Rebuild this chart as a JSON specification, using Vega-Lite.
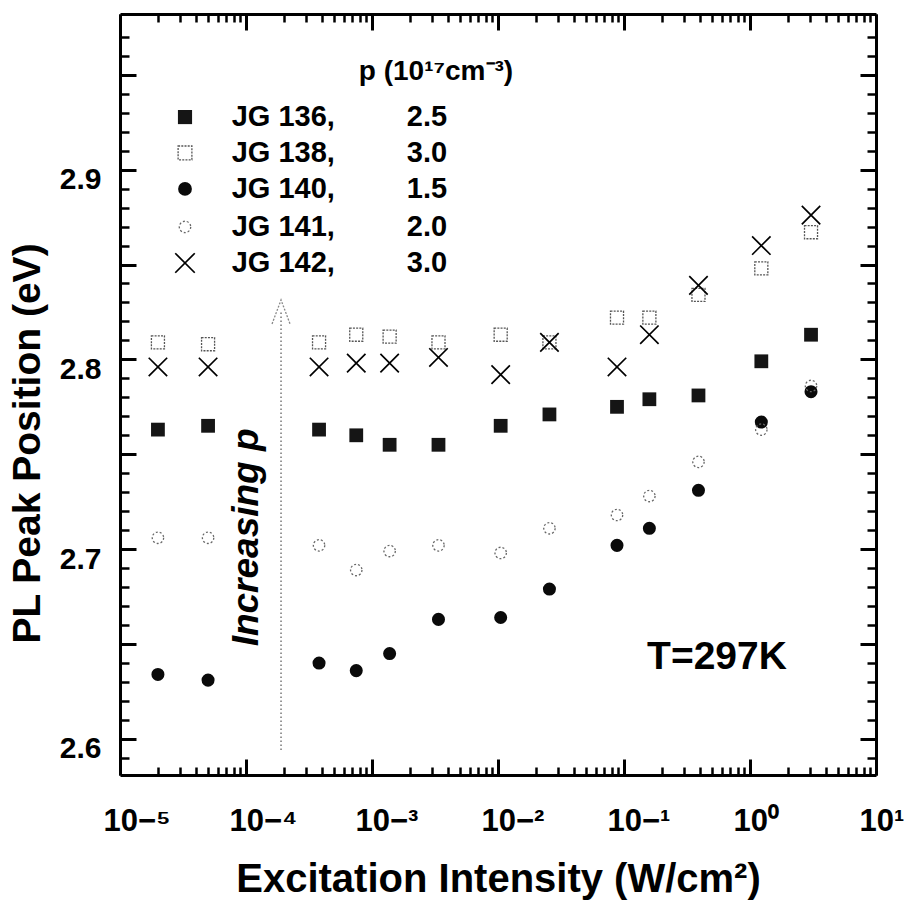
{
  "$schema": "https://vega.github.io/schema/vega-lite/v6.json",
  "width": 756,
  "height": 761,
  "autosize": {"type": "none"},
  "padding": {"left": 120, "top": 14, "right": 31, "bottom": 132},
  "background": "white",
  "config": {
    "view": {"stroke": null},
    "font": "Liberation Sans",
    "axis": {
      "labelFont": "Liberation Sans",
      "titleFont": "Liberation Sans",
      "labelColor": "black",
      "titleColor": "black",
      "tickColor": "black",
      "domainColor": "black",
      "grid": false,
      "labelFontWeight": "bold",
      "titleFontWeight": "bold"
    }
  },
  "datasets": {
    "pts": [
      {"s": "JG136", "I": 0.00002, "E": 2.763},
      {"s": "JG136", "I": 0.00005, "E": 2.765},
      {"s": "JG136", "I": 0.00038, "E": 2.763},
      {"s": "JG136", "I": 0.00075, "E": 2.760},
      {"s": "JG136", "I": 0.00138, "E": 2.755},
      {"s": "JG136", "I": 0.00337, "E": 2.755},
      {"s": "JG136", "I": 0.0105, "E": 2.765},
      {"s": "JG136", "I": 0.0256, "E": 2.771},
      {"s": "JG136", "I": 0.088, "E": 2.775},
      {"s": "JG136", "I": 0.159, "E": 2.779},
      {"s": "JG136", "I": 0.39, "E": 2.781},
      {"s": "JG136", "I": 1.23, "E": 2.799},
      {"s": "JG136", "I": 3.05, "E": 2.813},
      {"s": "JG138", "I": 0.00002, "E": 2.809},
      {"s": "JG138", "I": 0.00005, "E": 2.808},
      {"s": "JG138", "I": 0.00038, "E": 2.809},
      {"s": "JG138", "I": 0.00075, "E": 2.813},
      {"s": "JG138", "I": 0.00138, "E": 2.812},
      {"s": "JG138", "I": 0.00337, "E": 2.809},
      {"s": "JG138", "I": 0.0105, "E": 2.813},
      {"s": "JG138", "I": 0.0256, "E": 2.809},
      {"s": "JG138", "I": 0.088, "E": 2.822},
      {"s": "JG138", "I": 0.159, "E": 2.822},
      {"s": "JG138", "I": 0.39, "E": 2.834},
      {"s": "JG138", "I": 1.23, "E": 2.848},
      {"s": "JG138", "I": 3.05, "E": 2.867},
      {"s": "JG140", "I": 0.00002, "E": 2.634},
      {"s": "JG140", "I": 0.00005, "E": 2.631},
      {"s": "JG140", "I": 0.00038, "E": 2.640},
      {"s": "JG140", "I": 0.00075, "E": 2.636},
      {"s": "JG140", "I": 0.00138, "E": 2.645},
      {"s": "JG140", "I": 0.00337, "E": 2.663},
      {"s": "JG140", "I": 0.0105, "E": 2.664},
      {"s": "JG140", "I": 0.0256, "E": 2.679},
      {"s": "JG140", "I": 0.088, "E": 2.702},
      {"s": "JG140", "I": 0.159, "E": 2.711},
      {"s": "JG140", "I": 0.39, "E": 2.731},
      {"s": "JG140", "I": 1.23, "E": 2.767},
      {"s": "JG140", "I": 3.05, "E": 2.783},
      {"s": "JG141", "I": 0.00002, "E": 2.706},
      {"s": "JG141", "I": 0.00005, "E": 2.706},
      {"s": "JG141", "I": 0.00038, "E": 2.702},
      {"s": "JG141", "I": 0.00075, "E": 2.689},
      {"s": "JG141", "I": 0.00138, "E": 2.699},
      {"s": "JG141", "I": 0.00337, "E": 2.702},
      {"s": "JG141", "I": 0.0105, "E": 2.698},
      {"s": "JG141", "I": 0.0256, "E": 2.711},
      {"s": "JG141", "I": 0.088, "E": 2.718},
      {"s": "JG141", "I": 0.159, "E": 2.728},
      {"s": "JG141", "I": 0.39, "E": 2.746},
      {"s": "JG141", "I": 1.23, "E": 2.763},
      {"s": "JG141", "I": 3.05, "E": 2.786},
      {"s": "JG142", "I": 0.00002, "E": 2.796},
      {"s": "JG142", "I": 0.00005, "E": 2.796},
      {"s": "JG142", "I": 0.00038, "E": 2.796},
      {"s": "JG142", "I": 0.00075, "E": 2.798},
      {"s": "JG142", "I": 0.00138, "E": 2.798},
      {"s": "JG142", "I": 0.00337, "E": 2.801},
      {"s": "JG142", "I": 0.0105, "E": 2.792},
      {"s": "JG142", "I": 0.0256, "E": 2.809},
      {"s": "JG142", "I": 0.088, "E": 2.796},
      {"s": "JG142", "I": 0.159, "E": 2.813},
      {"s": "JG142", "I": 0.39, "E": 2.839},
      {"s": "JG142", "I": 1.23, "E": 2.860},
      {"s": "JG142", "I": 3.05, "E": 2.876}
    ],
    "leg": [
      {"s": "JG136", "lab": "JG 136,", "p": "2.5", "Is": 0.0000328, "Il": 0.000077, "Ip": 0.00273, "E": 2.9277},
      {"s": "JG138", "lab": "JG 138,", "p": "3.0", "Is": 0.0000328, "Il": 0.000077, "Ip": 0.00273, "E": 2.9088},
      {"s": "JG140", "lab": "JG 140,", "p": "1.5", "Is": 0.0000328, "Il": 0.000077, "Ip": 0.00273, "E": 2.8898},
      {"s": "JG141", "lab": "JG 141,", "p": "2.0", "Is": 0.0000328, "Il": 0.000077, "Ip": 0.00273, "E": 2.8698},
      {"s": "JG142", "lab": "JG 142,", "p": "3.0", "Is": 0.0000328, "Il": 0.000077, "Ip": 0.00273, "E": 2.8508}
    ],
    "arrow": [
      {"I": 0.0001897, "E": 2.5942, "E2": 2.826, "Etip": 2.825}
    ]
  },
  "resolve": {"axis": {"x": "independent", "y": "independent"}},
  "layer": [
    {
      "data": {"name": "pts"},
      "transform": [{"filter": "datum.s == 'JG136'"}],
      "mark": {"type": "point", "shape": "square", "filled": true, "fill": "#151515", "size": 190, "opacity": 1, "strokeWidth": 0},
      "encoding": {
        "x": {
          "field": "I", "type": "quantitative",
          "scale": {"type": "log", "domain": [0.00001, 10], "nice": false},
          "axis": {
            "orient": "bottom",
            "values": [0.00001, 0.0001, 0.001, 0.01, 0.1, 1, 10],
            "tickSize": -16, "tickWidth": 3, "domainWidth": 3,
            "labelFontSize": 31, "labelAlign": "left", "labelOffset": -17, "labelPadding": 47,
            "labelFlush": false, "labelOverlap": false,
            "labelExpr": "'10' + replace(replace(replace(replace(replace(replace(replace(format(round(log(datum.value)/LN10), 'd'), '-', '⁻'), '0', '⁰'), '1', '¹'), '2', '²'), '3', '³'), '4', '⁴'), '5', '⁵')",
            "title": "Excitation Intensity (W/cm²)", "titleFontSize": 40, "titlePadding": 23
          }
        },
        "y": {
          "field": "E", "type": "quantitative",
          "scale": {"domain": [2.581, 2.982], "nice": false, "zero": false},
          "axis": {
            "orient": "left",
            "values": [2.6, 2.65, 2.7, 2.75, 2.8, 2.85, 2.9, 2.95],
            "tickSize": -16, "tickWidth": 3, "domainWidth": 3,
            "labelFontSize": 30, "labelPadding": 35, "labelOffset": 10, "labelOverlap": false, "labelFlush": false,
            "labelExpr": "round(datum.value*100) % 10 == 0 ? format(datum.value, '.1f') : ''",
            "title": "PL Peak Position (eV)", "titleFontSize": 39, "titlePadding": 12, "titleY": 429
          }
        }
      }
    },
    {
      "data": {"name": "pts"},
      "transform": [{"filter": "datum.s == 'JG138'"}],
      "mark": {"type": "point", "shape": "square", "filled": false, "stroke": "#555555", "strokeWidth": 1.3, "strokeDash": [2, 1.2], "size": 170, "opacity": 1},
      "encoding": {
        "x": {
          "field": "I", "type": "quantitative",
          "scale": {"type": "log", "domain": [0.00001, 10], "nice": false},
          "axis": {
            "orient": "bottom",
            "values": [0.00002, 0.00003, 0.00004, 0.00005, 0.00006, 0.00007, 0.00008, 0.00009,
                       0.0002, 0.0003, 0.0004, 0.0005, 0.0006, 0.0007, 0.0008, 0.0009,
                       0.002, 0.003, 0.004, 0.005, 0.006, 0.007, 0.008, 0.009,
                       0.02, 0.03, 0.04, 0.05, 0.06, 0.07, 0.08, 0.09,
                       0.2, 0.3, 0.4, 0.5, 0.6, 0.7, 0.8, 0.9,
                       2, 3, 4, 5, 6, 7, 8, 9],
            "tickSize": -8, "tickWidth": 2.5, "labels": false, "domain": false, "title": null
          }
        },
        "y": {
          "field": "E", "type": "quantitative",
          "scale": {"domain": [2.581, 2.982], "nice": false, "zero": false},
          "axis": {
            "orient": "left",
            "values": [2.59, 2.61, 2.62, 2.63, 2.64, 2.66, 2.67, 2.68, 2.69, 2.71, 2.72, 2.73, 2.74, 2.76, 2.77, 2.78, 2.79, 2.81, 2.82, 2.83, 2.84, 2.86, 2.87, 2.88, 2.89, 2.91, 2.92, 2.93, 2.94, 2.96, 2.97],
            "tickSize": -9, "tickWidth": 2.5, "labels": false, "domain": false, "title": null
          }
        }
      }
    },
    {
      "data": {"name": "pts"},
      "transform": [{"filter": "datum.s == 'JG140'"}],
      "mark": {"type": "point", "shape": "circle", "filled": true, "fill": "#0a0a0a", "size": 170, "opacity": 1, "strokeWidth": 0},
      "encoding": {
        "x": {
          "field": "I", "type": "quantitative",
          "scale": {"type": "log", "domain": [0.00001, 10], "nice": false},
          "axis": {
            "orient": "top",
            "values": [0.00001, 0.0001, 0.001, 0.01, 0.1, 1, 10],
            "tickSize": -16, "tickWidth": 3, "domainWidth": 3, "labels": false, "title": null
          }
        },
        "y": {
          "field": "E", "type": "quantitative",
          "scale": {"domain": [2.581, 2.982], "nice": false, "zero": false},
          "axis": {
            "orient": "right",
            "values": [2.6, 2.65, 2.7, 2.75, 2.8, 2.85, 2.9, 2.95],
            "tickSize": -16, "tickWidth": 3, "domainWidth": 3, "labels": false, "title": null
          }
        }
      }
    },
    {
      "data": {"name": "pts"},
      "transform": [{"filter": "datum.s == 'JG141'"}],
      "mark": {"type": "point", "shape": "circle", "filled": false, "stroke": "#666666", "strokeWidth": 1.3, "strokeDash": [2, 2], "size": 130, "opacity": 1},
      "encoding": {
        "x": {
          "field": "I", "type": "quantitative",
          "scale": {"type": "log", "domain": [0.00001, 10], "nice": false},
          "axis": {
            "orient": "top",
            "values": [0.00002, 0.00003, 0.00004, 0.00005, 0.00006, 0.00007, 0.00008, 0.00009,
                       0.0002, 0.0003, 0.0004, 0.0005, 0.0006, 0.0007, 0.0008, 0.0009,
                       0.002, 0.003, 0.004, 0.005, 0.006, 0.007, 0.008, 0.009,
                       0.02, 0.03, 0.04, 0.05, 0.06, 0.07, 0.08, 0.09,
                       0.2, 0.3, 0.4, 0.5, 0.6, 0.7, 0.8, 0.9,
                       2, 3, 4, 5, 6, 7, 8, 9],
            "tickSize": -8, "tickWidth": 2.5, "labels": false, "domain": false, "title": null
          }
        },
        "y": {
          "field": "E", "type": "quantitative",
          "scale": {"domain": [2.581, 2.982], "nice": false, "zero": false},
          "axis": {
            "orient": "right",
            "values": [2.59, 2.61, 2.62, 2.63, 2.64, 2.66, 2.67, 2.68, 2.69, 2.71, 2.72, 2.73, 2.74, 2.76, 2.77, 2.78, 2.79, 2.81, 2.82, 2.83, 2.84, 2.86, 2.87, 2.88, 2.89, 2.91, 2.92, 2.93, 2.94, 2.96, 2.97],
            "tickSize": -9, "tickWidth": 2.5, "labels": false, "domain": false, "title": null
          }
        }
      }
    },
    {
      "data": {"name": "pts"},
      "transform": [{"filter": "datum.s == 'JG142'"}],
      "mark": {"type": "point", "shape": "M-1,-1L1,1M-1,1L1,-1", "filled": false, "stroke": "#000000", "strokeWidth": 1.7, "size": 340, "opacity": 1},
      "encoding": {
        "x": {"field": "I", "type": "quantitative", "scale": {"type": "log", "domain": [0.00001, 10], "nice": false}, "axis": null},
        "y": {"field": "E", "type": "quantitative", "scale": {"domain": [2.581, 2.982], "nice": false, "zero": false}, "axis": null}
      }
    },
    {
      "data": {"name": "arrow"},
      "mark": {"type": "rule", "stroke": "#777777", "strokeWidth": 1.5, "strokeDash": [1.5, 2.5]},
      "encoding": {
        "x": {"field": "I", "type": "quantitative", "axis": null},
        "y": {"field": "E", "type": "quantitative", "axis": null},
        "y2": {"field": "E2"}
      }
    },
    {
      "data": {"name": "arrow"},
      "mark": {"type": "point", "shape": "M-0.6,0.8L0,-0.8L0.6,0.8", "filled": false, "stroke": "#888888", "strokeWidth": 1.3, "strokeDash": [2, 1.5], "size": 900, "opacity": 1},
      "encoding": {
        "x": {"field": "I", "type": "quantitative", "axis": null},
        "y": {"field": "Etip", "type": "quantitative", "axis": null}
      }
    },
    {
      "data": {"values": [{"I": 0.000125, "E": 2.7062, "txt": "Increasing  p"}]},
      "mark": {"type": "text", "angle": 270, "align": "center", "baseline": "alphabetic", "font": "Liberation Sans", "fontSize": 37, "fontStyle": "italic", "fontWeight": "bold", "color": "black"},
      "encoding": {
        "x": {"field": "I", "type": "quantitative", "axis": null},
        "y": {"field": "E", "type": "quantitative", "axis": null},
        "text": {"field": "txt"}
      }
    },
    {
      "data": {"values": [{"I": 0.547, "E": 2.643, "txt": "T=297K"}]},
      "mark": {"type": "text", "align": "center", "baseline": "middle", "font": "Liberation Sans", "fontSize": 39, "fontWeight": "bold", "color": "black"},
      "encoding": {
        "x": {"field": "I", "type": "quantitative", "axis": null},
        "y": {"field": "E", "type": "quantitative", "axis": null},
        "text": {"field": "txt"}
      }
    },
    {
      "data": {"name": "leg"},
      "transform": [{"filter": "datum.s == 'JG136'"}],
      "mark": {"type": "point", "shape": "square", "filled": true, "fill": "#151515", "size": 200, "opacity": 1, "strokeWidth": 0},
      "encoding": {
        "x": {"field": "Is", "type": "quantitative", "axis": null},
        "y": {"field": "E", "type": "quantitative", "axis": null}
      }
    },
    {
      "data": {"name": "leg"},
      "transform": [{"filter": "datum.s == 'JG138'"}],
      "mark": {"type": "point", "shape": "square", "filled": false, "stroke": "#555555", "strokeWidth": 1.3, "strokeDash": [2, 1.2], "size": 190, "opacity": 1},
      "encoding": {
        "x": {"field": "Is", "type": "quantitative", "axis": null},
        "y": {"field": "E", "type": "quantitative", "axis": null}
      }
    },
    {
      "data": {"name": "leg"},
      "transform": [{"filter": "datum.s == 'JG140'"}],
      "mark": {"type": "point", "shape": "circle", "filled": true, "fill": "#0a0a0a", "size": 190, "opacity": 1, "strokeWidth": 0},
      "encoding": {
        "x": {"field": "Is", "type": "quantitative", "axis": null},
        "y": {"field": "E", "type": "quantitative", "axis": null}
      }
    },
    {
      "data": {"name": "leg"},
      "transform": [{"filter": "datum.s == 'JG141'"}],
      "mark": {"type": "point", "shape": "circle", "filled": false, "stroke": "#666666", "strokeWidth": 1.3, "strokeDash": [2, 2], "size": 130, "opacity": 1},
      "encoding": {
        "x": {"field": "Is", "type": "quantitative", "axis": null},
        "y": {"field": "E", "type": "quantitative", "axis": null}
      }
    },
    {
      "data": {"name": "leg"},
      "transform": [{"filter": "datum.s == 'JG142'"}],
      "mark": {"type": "point", "shape": "M-1,-1L1,1M-1,1L1,-1", "filled": false, "stroke": "#000000", "strokeWidth": 1.7, "size": 380, "opacity": 1},
      "encoding": {
        "x": {"field": "Is", "type": "quantitative", "axis": null},
        "y": {"field": "E", "type": "quantitative", "axis": null}
      }
    },
    {
      "data": {"name": "leg"},
      "mark": {"type": "text", "align": "left", "baseline": "middle", "font": "Liberation Sans", "fontSize": 29, "fontWeight": "bold", "color": "black"},
      "encoding": {
        "x": {"field": "Il", "type": "quantitative", "axis": null},
        "y": {"field": "E", "type": "quantitative", "axis": null},
        "text": {"field": "lab"}
      }
    },
    {
      "data": {"name": "leg"},
      "mark": {"type": "text", "align": "center", "baseline": "middle", "font": "Liberation Sans", "fontSize": 29, "fontWeight": "bold", "color": "black"},
      "encoding": {
        "x": {"field": "Ip", "type": "quantitative", "axis": null},
        "y": {"field": "E", "type": "quantitative", "axis": null},
        "text": {"field": "p"}
      }
    },
    {
      "data": {"values": [{"I": 0.00322, "E": 2.9514, "txt": "p (10¹⁷cm⁻³)"}]},
      "mark": {"type": "text", "align": "center", "baseline": "middle", "font": "Liberation Sans", "fontSize": 28, "fontWeight": "bold", "color": "black"},
      "encoding": {
        "x": {"field": "I", "type": "quantitative", "axis": null},
        "y": {"field": "E", "type": "quantitative", "axis": null},
        "text": {"field": "txt"}
      }
    }
  ]
}
